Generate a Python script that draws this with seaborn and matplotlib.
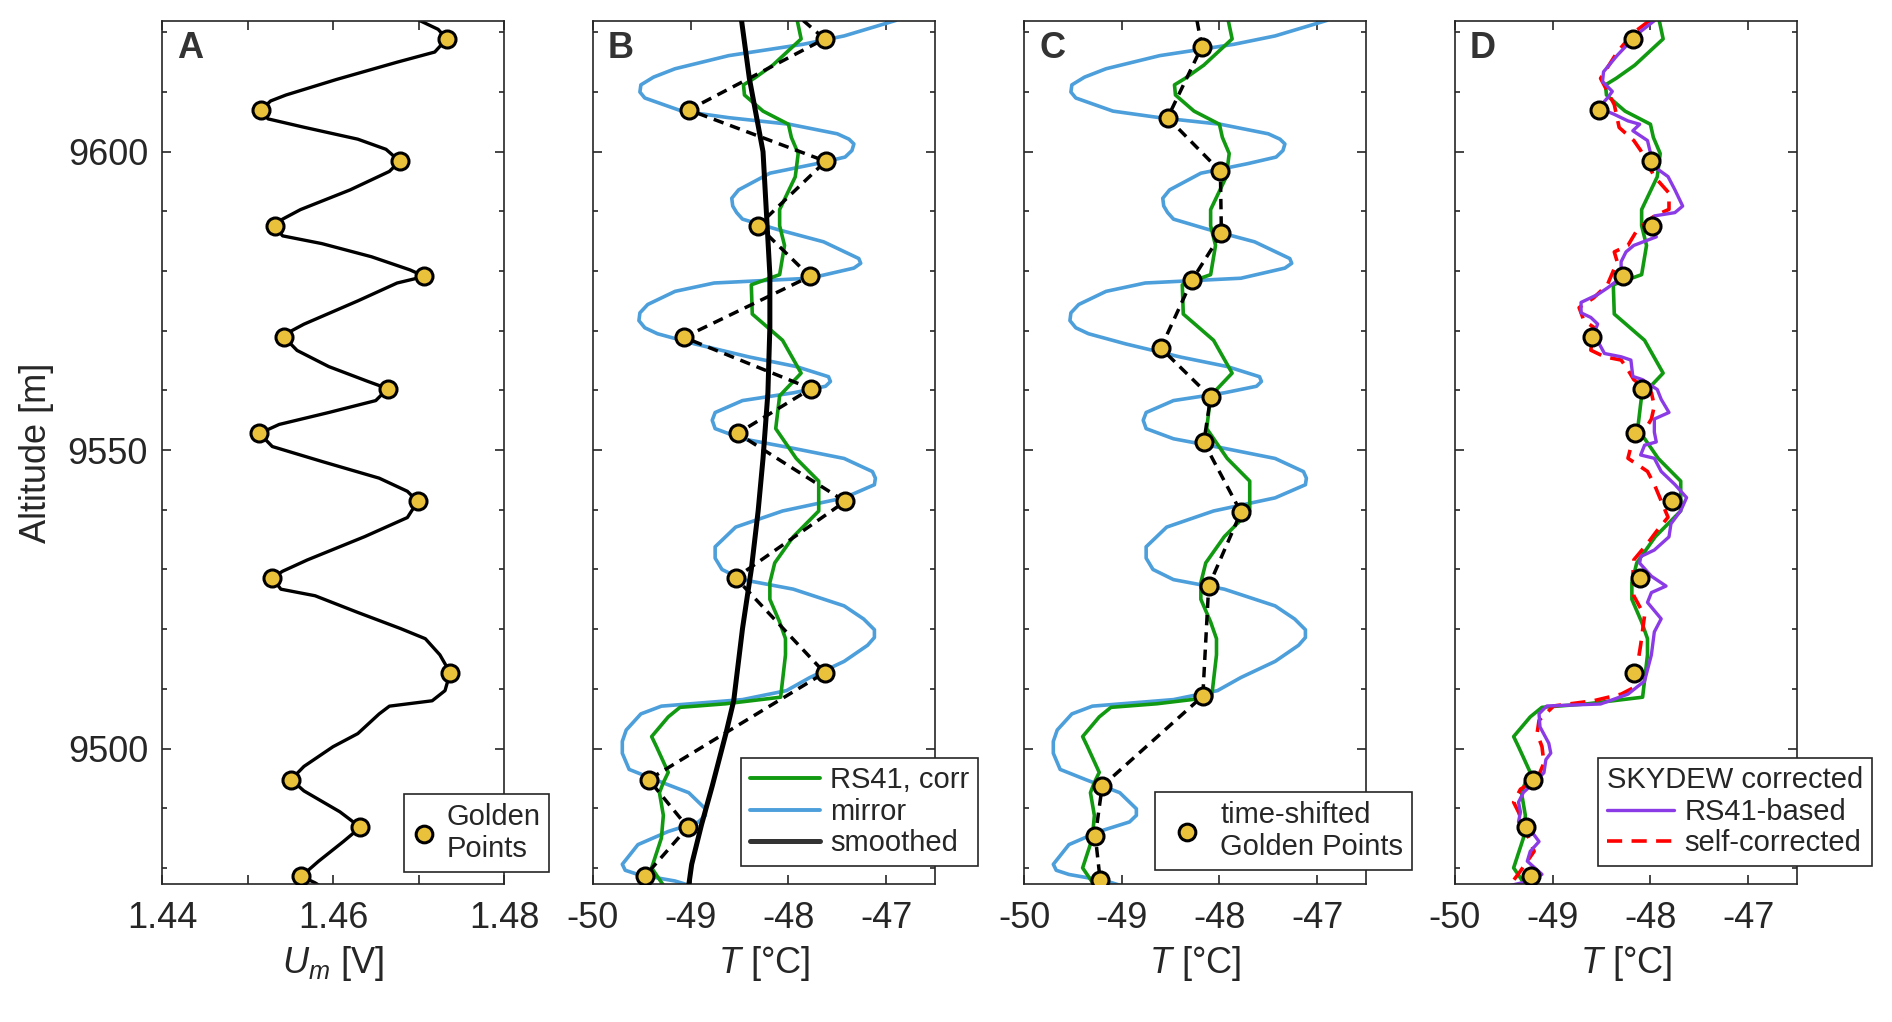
import matplotlib
matplotlib.use("Agg")
import matplotlib.pyplot as plt
from matplotlib.lines import Line2D
from matplotlib.ticker import MultipleLocator
import seaborn as sns

# ---- data ---------------------------------------------------------------
# golden points (altitude [m], sensor voltage [V], temperature [degC])
gp_alt = [9618.9, 9607.0, 9598.4, 9587.6, 9579.1, 9568.9, 9560.3,
          9552.8, 9541.4, 9528.6, 9512.7, 9494.8, 9486.8, 9478.6]
gp_um = [1.4733, 1.4516, 1.4678, 1.4532, 1.4707, 1.4543, 1.4664,
         1.4514, 1.4699, 1.4529, 1.4737, 1.4551, 1.4632, 1.4563]
gp_t = [-47.63, -49.02, -47.62, -48.31, -47.78, -49.07, -47.77,
        -48.52, -47.42, -48.54, -47.63, -49.43, -49.03, -49.47]

# time-shifted golden points
ts_alt = [9617.6, 9605.7, 9596.7, 9586.3, 9578.5, 9567.1, 9558.9,
          9551.3, 9539.6, 9527.2, 9508.8, 9493.7, 9485.3, 9477.9]
ts_t = [-48.18, -48.53, -47.99, -47.98, -48.28, -48.60, -48.09,
        -48.16, -47.78, -48.11, -48.17, -49.20, -49.27, -49.22]

# measured voltage profile (panel A)
um_alt = [9622.0, 9620.5, 9618.9, 9616.7, 9615.0, 9612.1, 9609.5, 9608.5,
          9607.0, 9605.5, 9604.1, 9602.1, 9600.4, 9598.4, 9596.7, 9593.6,
          9590.3, 9588.7, 9587.6, 9585.9, 9584.6, 9582.4, 9580.2, 9579.1,
          9578.0, 9575.0, 9571.1, 9569.8, 9568.9, 9566.7, 9564.0, 9561.5,
          9560.3, 9558.3, 9556.3, 9554.3, 9552.8, 9550.6, 9548.1, 9545.3,
          9543.1, 9541.4, 9538.7, 9535.5, 9531.6, 9529.7, 9528.6, 9526.7,
          9525.6, 9522.8, 9520.1, 9518.4, 9515.7, 9512.7, 9509.7, 9508.0,
          9507.1, 9505.8, 9502.5, 9500.3, 9497.0, 9494.8, 9492.9, 9489.4,
          9486.8, 9484.4, 9481.1, 9478.6, 9477.5, 9476.6]
um_val = [1.4701, 1.4723, 1.4733, 1.4719, 1.4675, 1.4604, 1.4545, 1.4527,
          1.4516, 1.4524, 1.4566, 1.4629, 1.4662, 1.4678, 1.4666, 1.4620,
          1.4562, 1.4541, 1.4532, 1.4541, 1.4587, 1.4645, 1.4690, 1.4707,
          1.4675, 1.4629, 1.4566, 1.4549, 1.4543, 1.4558, 1.4595, 1.4641,
          1.4664, 1.4650, 1.4595, 1.4537, 1.4514, 1.4529, 1.4587, 1.4654,
          1.4687, 1.4699, 1.4687, 1.4637, 1.4570, 1.4541, 1.4529, 1.4539,
          1.4579, 1.4629, 1.4679, 1.4708, 1.4725, 1.4737, 1.4731, 1.4716,
          1.4666, 1.4654, 1.4629, 1.4600, 1.4566, 1.4551, 1.4566, 1.4608,
          1.4632, 1.4612, 1.4583, 1.4563, 1.4579, 1.4589]

# RS41 corrected temperature
rs_alt = [9622.0, 9618.9, 9614.5, 9612.3, 9611.2, 9609.5, 9606.8, 9604.6,
          9602.4, 9599.7, 9595.8, 9590.3, 9587.6, 9584.3, 9579.4, 9577.7,
          9572.8, 9571.1, 9568.4, 9562.9, 9559.1, 9553.6, 9548.6, 9544.8,
          9539.8, 9535.5, 9531.1, 9527.8, 9525.0, 9521.2, 9518.4, 9515.7,
          9508.6, 9507.5, 9506.9, 9505.3, 9502.0, 9500.3, 9496.0, 9494.3,
          9492.6, 9488.8, 9485.0, 9480.0, 9477.1]
rs_t = [-47.91, -47.87, -48.16, -48.35, -48.46, -48.45, -48.26, -48.00,
        -47.97, -47.90, -47.93, -48.09, -48.09, -48.04, -48.09, -48.38,
        -48.37, -48.25, -48.06, -47.87, -48.09, -48.13, -47.92, -47.69,
        -47.69, -47.95, -48.14, -48.19, -48.19, -48.09, -48.03, -48.03,
        -48.08, -48.64, -49.11, -49.23, -49.40, -49.35, -49.23, -49.28,
        -49.32, -49.28, -49.30, -49.40, -49.28]

# mirror temperature
mr_alt = [9622.0, 9619.4, 9618.0, 9616.1, 9613.9, 9612.5, 9611.2, 9610.0,
          9609.0, 9606.8, 9605.7, 9604.6, 9603.0, 9602.1, 9601.3, 9600.2,
          9599.1, 9598.0, 9596.4, 9593.6, 9592.2, 9590.9, 9589.8, 9588.7,
          9587.0, 9584.9, 9582.1, 9581.3, 9580.5, 9578.8, 9578.0, 9576.6,
          9574.4, 9573.0, 9571.7, 9570.5, 9569.5, 9567.8, 9565.6, 9564.0,
          9562.3, 9561.5, 9560.7, 9559.6, 9558.3, 9556.3, 9555.0, 9553.6,
          9551.9, 9550.3, 9548.6, 9546.4, 9545.3, 9544.2, 9542.0, 9539.8,
          9537.1, 9533.8, 9531.9, 9530.0, 9528.3, 9526.7, 9523.9, 9521.7,
          9519.9, 9518.6, 9517.3, 9514.6, 9511.9, 9509.7, 9508.2, 9507.1,
          9505.8, 9503.1, 9501.2, 9499.2, 9496.5, 9494.8, 9492.6, 9489.9,
          9488.8, 9487.7, 9486.1, 9483.9, 9480.6, 9479.6, 9478.9, 9477.8,
          9477.1]
mr_t = [-46.90, -47.43, -47.85, -48.61, -49.16, -49.38, -49.51, -49.52,
        -49.47, -49.09, -48.61, -47.99, -47.50, -47.38, -47.33, -47.35,
        -47.42, -47.71, -48.19, -48.51, -48.58, -48.57, -48.53, -48.47,
        -48.12, -47.64, -47.28, -47.26, -47.33, -47.78, -48.76, -49.16,
        -49.44, -49.52, -49.53, -49.47, -49.34, -48.96, -48.40, -47.92,
        -47.59, -47.57, -47.62, -47.95, -48.47, -48.75, -48.78, -48.75,
        -48.47, -47.95, -47.43, -47.14, -47.11, -47.12, -47.43, -48.06,
        -48.54, -48.75, -48.75, -48.68, -48.47, -47.95, -47.43, -47.23,
        -47.12, -47.12, -47.19, -47.43, -47.78, -48.02, -48.47, -49.30,
        -49.51, -49.66, -49.70, -49.70, -49.63, -49.37, -49.02, -48.85,
        -48.85, -48.92, -49.23, -49.54, -49.70, -49.67, -49.54, -49.16,
        -49.02]

# smoothed mirror temperature
sm_alt = [9622.0, 9612.3, 9600.0, 9579.4, 9570.6, 9559.6, 9548.6, 9539.8,
          9530.0, 9520.1, 9508.0, 9502.5, 9493.7, 9487.2, 9480.6, 9477.1]
sm_t = [-48.48, -48.40, -48.26, -48.19, -48.19, -48.21, -48.26, -48.31,
        -48.38, -48.47, -48.56, -48.64, -48.78, -48.89, -48.99, -49.02]

# SKYDEW corrected, RS41-based
rb_alt = [9621.95, 9619.76, 9616.14, 9613.39, 9611.75, 9610.10, 9609.00,
          9607.35, 9606.26, 9605.16, 9604.60, 9603.51, 9601.87, 9599.12,
          9597.48, 9595.83, 9593.63, 9590.89, 9589.79, 9589.24, 9587.60,
          9585.73, 9584.30, 9583.21, 9581.56, 9579.91, 9578.27, 9577.17,
          9576.07, 9574.75, 9573.00, 9572.23, 9571.13, 9569.48, 9566.19,
          9565.64, 9565.09, 9562.35, 9561.80, 9560.15, 9558.51, 9556.31,
          9555.21, 9553.02, 9551.37, 9550.82, 9549.18, 9548.63, 9546.43,
          9544.24, 9542.04, 9539.85, 9537.65, 9535.46, 9533.26, 9532.16,
          9531.06, 9528.87, 9527.22, 9526.13, 9524.48, 9521.73, 9519.54,
          9515.70, 9511.31, 9509.11, 9507.46, 9507.13, 9505.82, 9503.62,
          9500.88, 9499.23, 9498.13, 9495.94, 9494.29, 9492.64, 9491.00,
          9489.35, 9487.71, 9486.61, 9485.51, 9484.41, 9482.77, 9481.12,
          9478.92, 9477.83, 9477.06]
rb_t = [-47.96, -48.13, -48.34, -48.48, -48.49, -48.39, -48.44, -48.53,
        -48.37, -48.23, -48.11, -48.18, -48.03, -47.99, -47.96, -47.82,
        -47.75, -47.67, -47.75, -47.96, -47.99, -47.94, -48.17, -48.25,
        -48.30, -48.30, -48.35, -48.44, -48.54, -48.71, -48.71, -48.61,
        -48.54, -48.58, -48.47, -48.30, -48.20, -48.18, -48.08, -47.93,
        -47.89, -47.81, -47.96, -47.96, -47.94, -48.06, -48.10, -47.96,
        -47.89, -47.75, -47.63, -47.69, -47.79, -47.81, -47.96, -48.10,
        -48.11, -47.99, -47.84, -47.99, -48.03, -47.89, -47.96, -47.99,
        -48.06, -48.23, -48.51, -49.06, -49.14, -49.13, -49.04, -49.02,
        -49.07, -49.09, -49.19, -49.30, -49.35, -49.33, -49.35, -49.26,
        -49.19, -49.14, -49.23, -49.26, -49.11, -49.23, -49.43]

# SKYDEW self-corrected
sc_alt = [9621.95, 9619.98, 9616.68, 9612.29, 9610.10, 9607.90, 9604.06,
          9601.87, 9600.22, 9595.83, 9593.08, 9590.34, 9589.24, 9587.05,
          9584.30, 9583.21, 9581.56, 9577.72, 9575.52, 9573.88, 9571.68,
          9570.58, 9566.74, 9565.64, 9565.09, 9563.99, 9561.80, 9559.60,
          9557.41, 9555.21, 9554.12, 9552.47, 9548.63, 9546.43, 9544.24,
          9538.75, 9536.55, 9534.36, 9531.61, 9528.87, 9525.58, 9522.28,
          9517.34, 9510.21, 9509.11, 9508.01, 9507.13, 9504.72, 9502.52,
          9500.33, 9497.59, 9494.84, 9493.19, 9491.00, 9489.35, 9487.16,
          9484.41, 9482.77, 9481.12, 9479.47, 9477.28]
sc_t = [-48.01, -48.17, -48.34, -48.51, -48.44, -48.37, -48.32, -48.17,
        -48.10, -47.96, -47.81, -47.81, -47.96, -48.13, -48.23, -48.37,
        -48.34, -48.44, -48.58, -48.73, -48.68, -48.58, -48.61, -48.47,
        -48.30, -48.25, -48.17, -47.99, -47.96, -47.99, -48.03, -48.17,
        -48.23, -48.03, -47.96, -47.82, -47.93, -48.03, -48.17, -48.18,
        -48.17, -48.06, -48.10, -48.17, -48.30, -48.58, -48.99, -49.14,
        -49.16, -49.11, -49.09, -49.16, -49.33, -49.40, -49.35, -49.30,
        -49.23, -49.19, -49.26, -49.33, -49.43]

# dashed connectors continue to the profile point above the frame
gp_top = (9622.0, -47.85)
ts_top = (9622.0, -48.23)

# ---- styling ----------------------------------------------------------------
sns.set_theme(style="ticks")
plt.rcParams["font.family"] = ["Liberation Sans", "DejaVu Sans"]
plt.rcParams["mathtext.fontset"] = "custom"
plt.rcParams["mathtext.it"] = "Liberation Sans:italic"
plt.rcParams["mathtext.rm"] = "Liberation Sans"
plt.rcParams["axes.unicode_minus"] = False

dark = "#262626"
gold = "#E9C13B"
green = "#119A11"
blue = "#4C9FDA"
purple = "#8A3BE6"
red = "#FF0000"
fs_tick = 26
fs_leg = 21
dash_k = (0, (3, 2))
dash_r = (0, (4.2, 2.6))

W, H = 1892, 1022
fig = plt.figure(figsize=(W / 100, H / 100), dpi=100)
lefts = [162, 593, 1024, 1455]
top, bottom, width = 21, 884, 342
axes = [fig.add_axes([l / W, 1 - bottom / H, width / W, (bottom - top) / H])
        for l in lefts]


def style_axis(ax, letter):
    ax.set_ylim(9477.3, 9621.9)
    ax.yaxis.set_major_locator(MultipleLocator(50))
    ax.yaxis.set_minor_locator(MultipleLocator(10))
    ax.tick_params(axis="both", which="both", direction="in", top=True,
                   right=True, colors=dark, width=1.2, labelsize=fs_tick)
    ax.tick_params(axis="x", which="both", length=6.5, pad=12)
    ax.tick_params(axis="y", which="major", length=6.5, pad=10)
    ax.tick_params(axis="y", which="minor", length=3.5)
    for sp in ax.spines.values():
        sp.set_visible(True)
        sp.set_color(dark)
        sp.set_linewidth(1.2)
    ax.text(0.044, 0.988, letter, transform=ax.transAxes, ha="left",
            va="top", fontsize=fs_tick, fontweight="bold", color="#333333")


def golden(ax, x, y):
    sns.scatterplot(x=x, y=y, ax=ax, s=150, color=gold, edgecolor="black",
                    linewidth=2.2, zorder=6, legend=False, clip_on=True)


def line(ax, x, y, **kw):
    sns.lineplot(x=x, y=y, ax=ax, sort=False, estimator=None, legend=False,
                 **kw)


gp_handle = Line2D([], [], linestyle="none", marker="o", markersize=12,
                   markerfacecolor=gold, markeredgecolor="black",
                   markeredgewidth=2.2)
leg_kw = dict(fontsize=fs_leg, frameon=True, fancybox=False, framealpha=1,
              edgecolor=dark, borderaxespad=0, loc="lower right",
              bbox_transform=fig.transFigure, borderpad=0.3,
              labelspacing=0.12, handletextpad=0.35)

# ---- A : voltage ------------------------------------------------------------
ax = axes[0]
line(ax, um_val, um_alt, color="black", linewidth=2.4)
golden(ax, gp_um, gp_alt)
ax.set_xlim(1.44, 1.48)
ax.xaxis.set_major_locator(MultipleLocator(0.02))
ax.xaxis.set_minor_locator(MultipleLocator(0.01))
ax.xaxis.set_major_formatter(lambda v, p: f"{v:.2f}")
ax.set_xlabel(r"$U_m$ [V]", fontsize=fs_tick, color=dark, labelpad=6)
ax.set_ylabel("Altitude [m]", fontsize=fs_tick, color=dark, labelpad=10)
style_axis(ax, "A")
leg = ax.legend(handles=[gp_handle], labels=["Golden\nPoints"],
                bbox_to_anchor=(549 / W, 1 - 872 / H), handlelength=0.8,
                **leg_kw)
leg.get_frame().set_linewidth(1.2)

# ---- B : temperatures -------------------------------------------------------
ax = axes[1]
line(ax, mr_t, mr_alt, color=blue, linewidth=2.6)
line(ax, rs_t, rs_alt, color=green, linewidth=2.6)
line(ax, sm_t, sm_alt, color="black", linewidth=3.6, zorder=4)
line(ax, [gp_top[1]] + gp_t, [gp_top[0]] + gp_alt, color="black",
     linewidth=2.5, linestyle=dash_k, zorder=5)
golden(ax, gp_t, gp_alt)

# ---- C : time-shifted golden points ----------------------------------------
ax = axes[2]
line(ax, mr_t, mr_alt, color=blue, linewidth=2.6)
line(ax, rs_t, rs_alt, color=green, linewidth=2.6)
line(ax, [ts_top[1]] + ts_t, [ts_top[0]] + ts_alt, color="black",
     linewidth=2.5, linestyle=dash_k, zorder=5)
golden(ax, ts_t, ts_alt)

# ---- D : SKYDEW corrected ---------------------------------------------------
ax = axes[3]
line(ax, rs_t, rs_alt, color=green, linewidth=2.6)
line(ax, sc_t, sc_alt, color=red, linewidth=2.6, linestyle=dash_r)
line(ax, rb_t, rb_alt, color=purple, linewidth=2.4)
golden(ax, ts_t, gp_alt)

for ax, letter in zip(axes[1:], "BCD"):
    ax.set_xlim(-50, -46.5)
    ax.xaxis.set_major_locator(MultipleLocator(1))
    ax.xaxis.set_major_formatter(lambda v, p: f"{v:.0f}")
    ax.set_xlabel(r"$T$ [°C]", fontsize=fs_tick, color=dark, labelpad=6)
    ax.set_ylabel("")
    style_axis(ax, letter)
    ax.tick_params(axis="y", which="both", labelleft=False)

leg = axes[1].legend(
    handles=[Line2D([], [], color=green, lw=2.8),
             Line2D([], [], color=blue, lw=2.8),
             Line2D([], [], color="#333333", lw=3.6)],
    labels=["RS41, corr", "mirror", "smoothed"],
    bbox_to_anchor=(978 / W, 1 - 866 / H), handlelength=2.4, **leg_kw)
leg.get_frame().set_linewidth(1.2)

leg = axes[2].legend(handles=[gp_handle],
                     labels=["time-shifted\nGolden Points"],
                     bbox_to_anchor=(1412 / W, 1 - 870 / H),
                     handlelength=1.6, **leg_kw)
leg.get_frame().set_linewidth(1.2)

leg = axes[3].legend(
    handles=[Line2D([], [], color=purple, lw=2.4),
             Line2D([], [], color=red, lw=2.6, linestyle=dash_r)],
    labels=["RS41-based", "self-corrected"], title="SKYDEW corrected",
    title_fontsize=fs_leg, alignment="left",
    bbox_to_anchor=(1872 / W, 1 - 866 / H), handlelength=2.3, **leg_kw)
leg.get_frame().set_linewidth(1.2)

fig.savefig("out.png", dpi=100)
